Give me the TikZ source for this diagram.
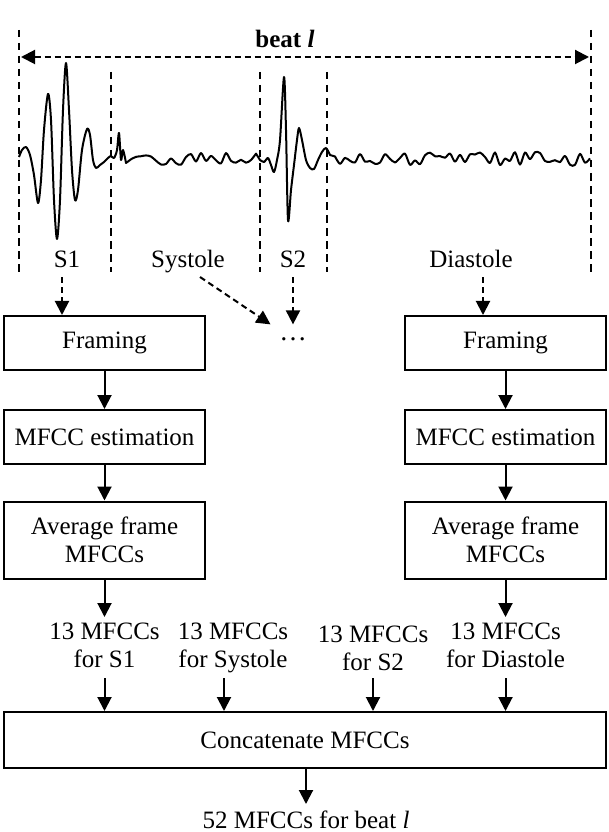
\documentclass[tikz,border=0pt]{standalone}
\usepackage{fontspec}
\setmainfont{Liberation Serif}
\usetikzlibrary{arrows.meta, positioning}

\begin{document}
\begin{tikzpicture}[x=0.4pt, y=-0.4pt, font=\fontsize{10}{11.2}\selectfont, >={Triangle[length=5.6pt, width=5.6pt]}]
\tikzstyle{block} = [rectangle, draw=black, line width=0.8pt, minimum width=80.4pt, minimum height=21.6pt, text centered, align=center, inner sep=1pt]
\tikzstyle{arrow} = [line width=0.8pt, ->]
\tikzstyle{darrow} = [arrow, dash pattern=on 2.4pt off 1.6pt]
\tikzstyle{sep} = [line width=0.8pt, dash pattern=on 3pt off 2.2pt]
\tikzstyle{lbl} = [align=center, inner sep=0pt]

\useasboundingbox (0,0) rectangle (608,832);

% segment borders and beat length
\foreach \x in {19,591}
  \draw[sep] (\x,30) -- (\x,272);
\foreach \x in {111,260,327}
  \draw[sep] (\x,72) -- (\x,272);
\coordinate (bl) at (21,57);
\coordinate (br) at (589,57);
\draw[darrow, <->] (bl) -- (br);
\node[lbl, anchor=base, font=\fontsize{10}{11}\selectfont\bfseries] (beat) at (285,48) {beat \textit{l}};

% heart sound
\pgfmathsetseed{11}
\draw[line width=0.8pt, line join=round]
  plot[smooth, tension=0.5] coordinates {(19,157) (22,150) (26,147) (30,155) (34,175) (38,203) (41,180) (44,130) (48,94) (51,120) (54,200) (57,239) (60,200) (63,110) (66,63) (69,110) (72,170) (75,200) (78,190) (82,150) (87,129) (90,135) (93,160) (96,168) (100,165) (104,162) (108,158) (111,156) (114,158) (117,150) (119,133) (121,160) (123,150) (126,163)}
  -- plot[smooth, domain=131:256, samples=26] (\x,{159+7*rand})
  -- plot[smooth, tension=0.5] coordinates {(260,160) (264,162) (268,158) (271,165) (274,172) (277,160) (280,140) (284,77) (286,130) (288,220) (291,190) (294,165) (297,140) (299,128) (302,140) (306,160) (310,168) (314,169) (318,160) (322,152) (326,148) (330,155)}
  -- plot[smooth, domain=335:590, samples=52] (\x,{159+7*rand});

% segment names
\node[lbl, anchor=base] (s1) at (67,268) {S1};
\node[lbl, anchor=base] (sys) at (188,268) {Systole};
\node[lbl, anchor=base] (s2) at (293,268) {S2};
\node[lbl, anchor=base] (dia) at (471,268) {Diastole};

% processing columns
\node[block] (fr1) at (104.5,343) {Framing};
\node[block] (mf1) at (104.5,437) {MFCC estimation};
\node[block, minimum height=30.8pt] (av1) at (104.5,540) {Average frame\\MFCCs};
\node[block] (fr4) at (505.5,343) {Framing};
\node[block] (mf4) at (505.5,437) {MFCC estimation};
\node[block, minimum height=30.8pt] (av4) at (505.5,540) {Average frame\\MFCCs};
\node[inner sep=0pt, font=\fontsize{11}{12}\selectfont] (dots) at (293,339) {\dots};

\draw[darrow] ([xshift=-2pt, yshift=-3.6pt]s1.base) -- ([xshift=-2pt]s1.base |- fr1.north);
\draw[darrow] ([xshift=4.8pt, yshift=-3.6pt]sys.base) -- ([xshift=-9pt, yshift=5pt]dots.north);
\draw[darrow] ([yshift=-3.6pt]s2.base) -- ([yshift=5pt]dots.north);
\draw[darrow] ([xshift=4.8pt, yshift=-3.6pt]dia.base) -- ([xshift=4.8pt]dia.base |- fr4.north);

\draw[arrow] (fr1) -- (mf1);
\draw[arrow] (mf1) -- (av1);
\draw[arrow] (fr4) -- (mf4);
\draw[arrow] (mf4) -- (av4);

% features per segment
\node[lbl, anchor=north] (t1) at (104.5,622) {13 MFCCs\\for S1};
\node[lbl, anchor=north] (t2) at (233,622) {13 MFCCs\\for Systole};
\node[lbl, anchor=north] (t3) at (373,625) {13 MFCCs\\for S2};
\node[lbl, anchor=north] (t4) at (505.5,622) {13 MFCCs\\for Diastole};

\draw[arrow] (av1) -- ([yshift=2pt]t1.north);
\draw[arrow] (av4) -- ([yshift=2pt]t4.north);

\node[block, minimum width=240.8pt, minimum height=22.4pt] (cat) at (305,740) {Concatenate MFCCs};
\node[lbl, anchor=base] (out) at (306,828) {52 MFCCs for beat \textit{l}};

\draw[arrow] ([yshift=-22.4pt]t1.north) -- (t1.north |- cat.north);
\draw[arrow] ([xshift=-3.6pt, yshift=-22.4pt]t2.north) -- ([xshift=-3.6pt]t2.north |- cat.north);
\draw[arrow] ([yshift=-21.2pt]t3.north) -- (t3.north |- cat.north);
\draw[arrow] ([yshift=-22.4pt]t4.north) -- (t4.north |- cat.north);
\draw[arrow] (cat.south -| out.base) -- ([yshift=9.6pt]out.base);
\end{tikzpicture}
\end{document}
